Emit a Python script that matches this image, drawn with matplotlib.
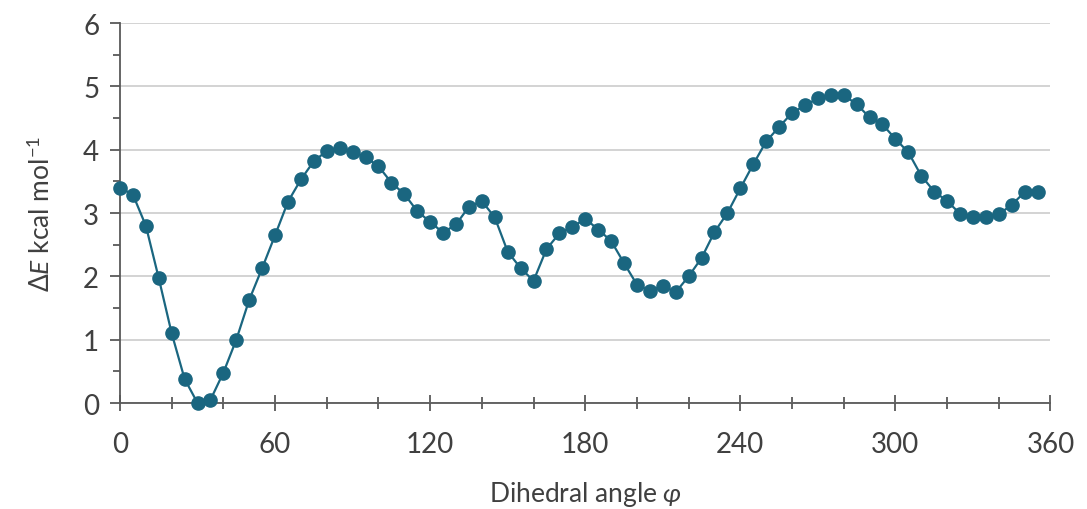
import matplotlib
matplotlib.use('Agg')
import matplotlib.pyplot as plt
from matplotlib.ticker import MultipleLocator

# dihedral scan, 5 degree steps
angle = list(range(0, 360, 5))
energy = [3.40, 3.29, 2.80, 1.97, 1.10, 0.38, 0.00, 0.05, 0.48, 1.00,
          1.63, 2.13, 2.65, 3.18, 3.53, 3.82, 3.98, 4.03, 3.96, 3.88,
          3.74, 3.48, 3.30, 3.03, 2.86, 2.69, 2.82, 3.10, 3.19, 2.93,
          2.39, 2.13, 1.93, 2.43, 2.68, 2.78, 2.91, 2.74, 2.56, 2.21,
          1.87, 1.77, 1.85, 1.75, 2.00, 2.29, 2.70, 3.00, 3.39, 3.77,
          4.13, 4.36, 4.58, 4.70, 4.81, 4.86, 4.86, 4.72, 4.51, 4.40,
          4.17, 3.96, 3.59, 3.34, 3.19, 2.99, 2.93, 2.93, 2.98, 3.13,
          3.33, 3.34]
x_ticks = [0, 60, 120, 180, 240, 300, 360]
y_ticks = [0, 1, 2, 3, 4, 5, 6]

plt.rcParams['font.family'] = ['Lato', 'DejaVu Sans']
plt.rcParams['mathtext.fontset'] = 'custom'
plt.rcParams['mathtext.rm'] = 'Lato'
plt.rcParams['mathtext.it'] = 'Lato:italic'

txt = '#404040'
axc = '#595959'

fig = plt.figure(figsize=(10.87, 5.10), dpi=100)
ax = fig.add_axes([0.1104, 0.2078, 0.856, 0.745])

ax.plot(angle, energy, color='#1a6680', lw=1.6, marker='o', ms=9.5,
        zorder=3, clip_on=False)

ax.set_xlim(0, 360)
ax.set_ylim(0, 6)
ax.set_xticks(x_ticks)
ax.set_yticks(y_ticks)
ax.xaxis.set_minor_locator(MultipleLocator(20))
ax.yaxis.set_minor_locator(MultipleLocator(0.5))
ax.grid(axis='y', which='major', color='#d0d0d0', lw=1.3)
ax.set_axisbelow(True)

for s in ['top', 'right']:
    ax.spines[s].set_visible(False)
for s in ['left', 'bottom']:
    ax.spines[s].set_color(axc)
    ax.spines[s].set_linewidth(1.3)

ax.tick_params(which='major', length=7, width=1.3, color=axc,
               labelsize=20, labelcolor=txt, pad=8)
ax.tick_params(which='minor', length=5, width=1.3, color=axc)
ax.tick_params(axis='x', which='both', direction='inout')
ax.tick_params(axis='x', which='major', length=12, pad=14)
ax.tick_params(axis='x', which='minor', length=9)

ax.set_xlabel(r'Dihedral angle $\varphi$', fontsize=19, color=txt, labelpad=16)
ax.set_ylabel(r'$\mathit{\Delta E}$ kcal mol$^{-1}$', fontsize=19, color=txt,
              labelpad=20)

fig.savefig('out.png', dpi=100)
